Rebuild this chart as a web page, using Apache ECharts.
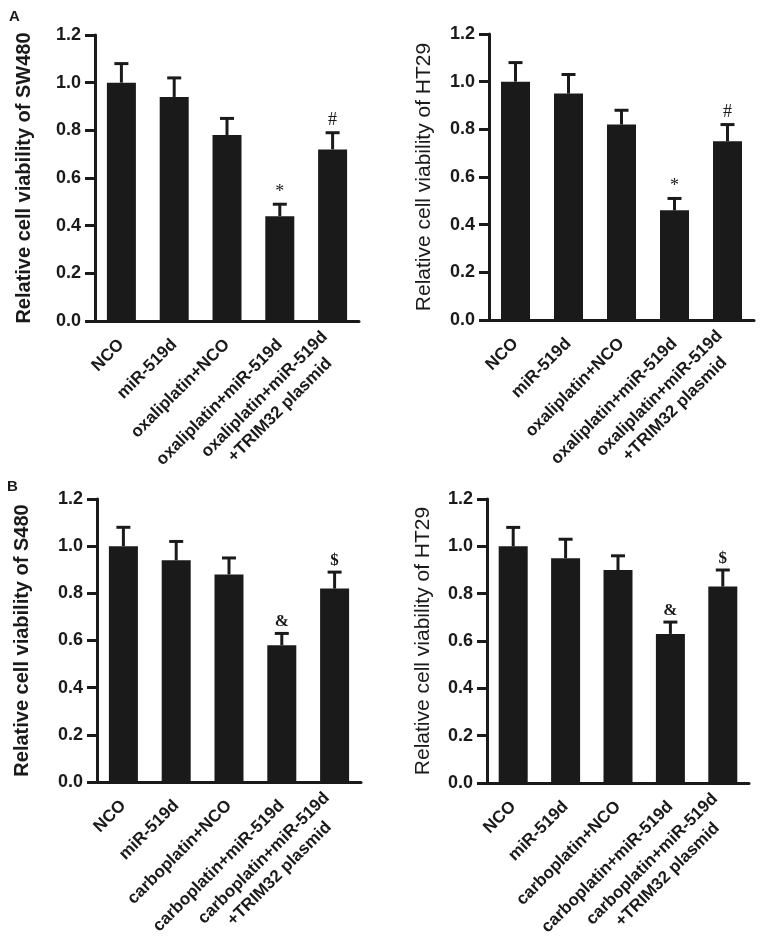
<!DOCTYPE html>
<html>
<head>
<meta charset="utf-8">
<script src="https://cdn.jsdelivr.net/npm/echarts@6/dist/echarts.min.js"></script>
<style>
html,body{margin:0;padding:0;background:#fff;}
#chart{width:764px;height:943px;}
</style>
</head>
<body>
<div id="chart"></div>
<script>
// ---- data ----
const categoriesOxa = ['NCO', 'miR-519d', 'oxaliplatin+NCO', 'oxaliplatin+miR-519d', 'oxaliplatin+miR-519d\n+TRIM32 plasmid'];
const categoriesCarbo = ['NCO', 'miR-519d', 'carboplatin+NCO', 'carboplatin+miR-519d', 'carboplatin+miR-519d\n+TRIM32 plasmid'];
const yTicks = [0, 0.2, 0.4, 0.6, 0.8, 1.0, 1.2];

const sw480Oxa = [1.00, 0.94, 0.78, 0.44, 0.72];
const sw480OxaErr = [0.08, 0.08, 0.07, 0.05, 0.07];
const ht29Oxa = [1.00, 0.95, 0.82, 0.46, 0.75];
const ht29OxaErr = [0.08, 0.08, 0.06, 0.05, 0.07];
const s480Carbo = [1.00, 0.94, 0.88, 0.58, 0.82];
const s480CarboErr = [0.08, 0.08, 0.07, 0.05, 0.07];
const ht29Carbo = [1.00, 0.95, 0.90, 0.63, 0.83];
const ht29CarboErr = [0.08, 0.08, 0.06, 0.05, 0.07];
const marksOxa = ['', '', '', '*', '#'];
const marksCarbo = ['', '', '', '&', '$'];

const yTitles = ['Relative cell viability of SW480', 'Relative cell viability of HT29', 'Relative cell viability of S480', 'Relative cell viability of HT29'];

// ---- layout ----
const INK = '#1a1a1a';
const SANS = '"Liberation Sans", Arial, sans-serif';
const SERIF = '"Liberation Serif", "Times New Roman", serif';

const panels = [
  { cats: categoriesOxa, vals: sw480Oxa, errs: sw480OxaErr, marks: marksOxa, grid: {left: 95, top: 35, width: 264, height: 286}, nameGap: 61, bold: true },
  { cats: categoriesOxa, vals: ht29Oxa, errs: ht29OxaErr, marks: marksOxa, grid: {left: 489, top: 34, width: 265, height: 286}, nameGap: 54, bold: false },
  { cats: categoriesCarbo, vals: s480Carbo, errs: s480CarboErr, marks: marksCarbo, grid: {left: 97, top: 499, width: 264, height: 283}, nameGap: 65, bold: true },
  { cats: categoriesCarbo, vals: ht29Carbo, errs: ht29CarboErr, marks: marksCarbo, grid: {left: 487, top: 499, width: 262, height: 284}, nameGap: 53, bold: false }
];

const labelRich = {c: {align: 'center', color: INK, fontFamily: SANS, fontWeight: 'bold', fontSize: 17, lineHeight: 22}};

const grid = [], xAxis = [], yAxis = [], series = [];
panels.forEach((p, i) => {
  grid.push(Object.assign({containLabel: false, outerBoundsMode: 'none'}, p.grid));
  xAxis.push({
    type: 'category', gridIndex: i, data: p.cats,
    axisLine: {lineStyle: {color: INK, width: 3}},
    axisTick: {alignWithLabel: true, length: 10, lineStyle: {color: INK, width: 3}},
    axisLabel: {rotate: 45, interval: 0, margin: 21, color: INK, fontFamily: SANS, fontWeight: 'bold', fontSize: 17, lineHeight: 22,
      formatter: v => v.split('\n').map(s => '{c|' + s + '}').join('\n'), rich: labelRich}
  });
  yAxis.push({
    type: 'value', gridIndex: i, min: yTicks[0], max: yTicks[yTicks.length - 1], interval: 0.2,
    splitLine: {show: false},
    axisLine: {show: true, lineStyle: {color: INK, width: 3}},
    axisTick: {show: true, length: 10, lineStyle: {color: INK, width: 3}},
    axisLabel: {margin: 14, color: INK, fontFamily: SANS, fontWeight: 'bold', fontSize: 18, formatter: v => v.toFixed(1)},
    name: yTitles[i], nameLocation: 'middle', nameGap: p.nameGap,
    nameTextStyle: {color: INK, fontFamily: SANS, fontWeight: p.bold ? 'bold' : 'normal', fontSize: p.bold ? 20 : 21}
  });
  series.push({
    type: 'bar', xAxisIndex: i, yAxisIndex: i, data: p.vals, barWidth: 29,
    itemStyle: {color: INK}, z: 2
  });
  const marks = p.marks;
  series.push({
    type: 'custom', xAxisIndex: i, yAxisIndex: i, z: 3,
    data: p.vals.map((v, k) => [k, v, p.errs[k]]),
    renderItem: function (params, api) {
      const x = api.value(0), v = api.value(1), e = api.value(2);
      const base = api.coord([x, v]);
      const top = api.coord([x, v + e]);
      const hw = 7;
      const mk = marks[params.dataIndex];
      const children = [
        {type: 'line', shape: {x1: base[0], y1: base[1], x2: top[0], y2: top[1]}, style: {stroke: INK, lineWidth: 3}},
        {type: 'line', shape: {x1: top[0] - hw, y1: top[1], x2: top[0] + hw, y2: top[1]}, style: {stroke: INK, lineWidth: 3}}
      ];
      if (mk) {
        const isAmp = (mk === '&' || mk === '$');
        children.push({type: 'text', x: top[0], y: top[1] - 3, style: {
          text: mk, fill: INK, align: 'center', verticalAlign: 'bottom',
          font: (isAmp ? 'bold 17px ' : '18px ') + SERIF
        }});
      }
      return {type: 'group', children: children};
    }
  });
});

const chart = echarts.init(document.getElementById('chart'), null, {renderer: 'canvas'});
chart.setOption({
  backgroundColor: '#fff',
  animation: false,
  title: [
    {text: 'A', left: 4, top: 4, textStyle: {fontFamily: SANS, fontWeight: 'bold', fontSize: 15, color: INK}},
    {text: 'B', left: 2, top: 474, textStyle: {fontFamily: SANS, fontWeight: 'bold', fontSize: 15, color: INK}}
  ],
  grid: grid, xAxis: xAxis, yAxis: yAxis, series: series
});
</script>
</body>
</html>
